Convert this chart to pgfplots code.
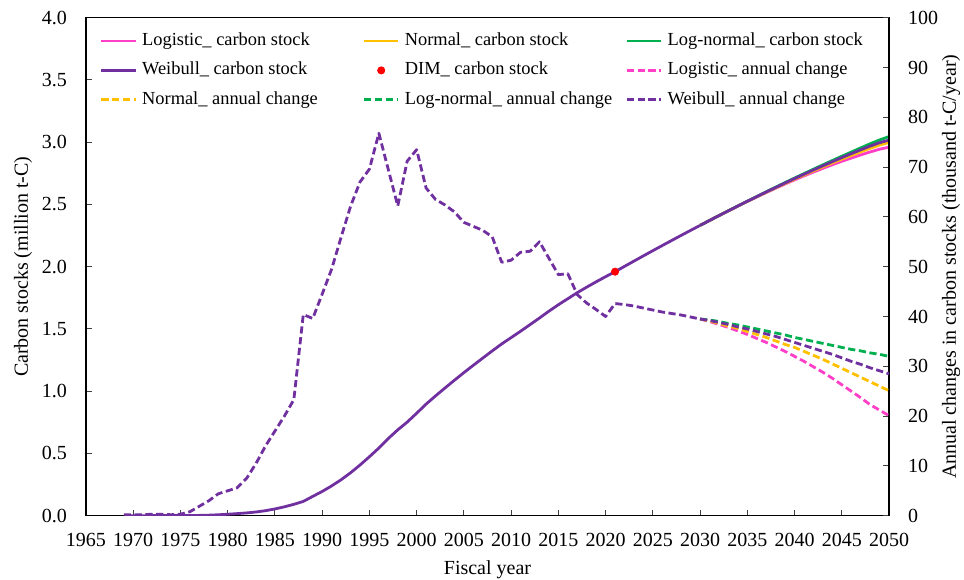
\documentclass[border=0pt]{standalone}
\usepackage{fontspec}
\setmainfont{Liberation Serif}
\usepackage{pgfplots}
\pgfplotsset{compat=1.18}
\usepackage{pgfplotstable}

\definecolor{cpink}{HTML}{FF3FC8}
\definecolor{corange}{HTML}{FFC000}
\definecolor{cgreen}{HTML}{00B050}
\definecolor{cpurple}{HTML}{7030A0}

\pgfplotstableread{
year stock change
1969 0.0000 0.2
1970 0.0002 0.2
1971 0.0004 0.2
1972 0.0006 0.3
1973 0.0009 0.3
1974 0.0012 0.2
1975 0.0014 0.3
1976 0.0017 0.8
1977 0.0025 1.9
1978 0.0044 3.0
1979 0.0074 4.4
1980 0.0118 5.0
1981 0.0168 5.6
1982 0.0224 7.5
1983 0.0299 10.5
1984 0.0404 14.0
1985 0.0544 17.0
1986 0.0714 20.0
1987 0.0914 23.3
1988 0.1147 40.4
1989 0.1551 39.6
1990 0.1947 44.5
1991 0.2392 49.5
1992 0.2887 55.9
1993 0.3446 62.1
1994 0.4067 67.0
1995 0.4737 69.6
1996 0.5433 76.8
1997 0.6201 69.5
1998 0.6896 62.2
1999 0.7518 71.2
2000 0.8230 73.5
2001 0.8965 65.8
2002 0.9623 63.5
2003 1.0258 62.4
2004 1.0882 61.0
2005 1.1492 58.9
2006 1.2081 58.1
2007 1.2662 57.3
2008 1.3235 56.0
2009 1.3795 50.9
2010 1.4304 51.3
2011 1.4817 52.9
2012 1.5346 53.1
2013 1.5877 55.0
2014 1.6427 51.7
2015 1.6944 48.4
2016 1.7428 48.6
2017 1.7914 44.4
2018 1.8358 42.7
2019 1.8785 41.4
2020 1.9199 40.0
2021 1.9599 42.6
2022 2.0025 42.4
2023 2.0449 42.1
2024 2.0870 41.7
2025 2.1287 41.3
2026 2.1700 40.9
2027 2.2109 40.6
2028 2.2515 40.3
2029 2.2918 39.9
2030 2.3317 39.5
}\common

\pgfplotstableread{
year stock change
2030 2.3317 39.5
2031 2.3712 39.0
2032 2.4102 38.4
2033 2.4486 37.8
2034 2.4864 37.1
2035 2.5235 36.4
2036 2.5599 35.6
2037 2.5955 34.8
2038 2.6303 33.9
2039 2.6642 33.0
2040 2.6972 32.0
2041 2.7292 31.0
2042 2.7602 29.9
2043 2.7901 28.8
2044 2.8189 27.6
2045 2.8465 26.3
2046 2.8728 25.0
2047 2.8978 23.7
2048 2.9215 22.3
2049 2.9438 21.2
2050 2.9600 20.1
}\logistic

\pgfplotstableread{
year stock change
2030 2.3317 39.5
2031 2.3712 39.1
2032 2.4103 38.6
2033 2.4489 38.1
2034 2.4870 37.6
2035 2.5246 37.0
2036 2.5616 36.4
2037 2.5980 35.8
2038 2.6338 35.1
2039 2.6689 34.4
2040 2.7033 33.8
2041 2.7371 33.0
2042 2.7701 32.2
2043 2.8023 31.4
2044 2.8337 30.5
2045 2.8642 29.6
2046 2.8938 28.7
2047 2.9225 27.8
2048 2.9503 26.9
2049 2.9772 26.0
2050 2.9980 25.1
}\normal

\pgfplotstableread{
year stock change
2030 2.3317 39.5
2031 2.3712 39.3
2032 2.4105 39.0
2033 2.4495 38.6
2034 2.4881 38.3
2035 2.5264 37.9
2036 2.5643 37.5
2037 2.6018 37.1
2038 2.6389 36.7
2039 2.6756 36.3
2040 2.7119 35.8
2041 2.7477 35.4
2042 2.7831 35.0
2043 2.8181 34.6
2044 2.8527 34.2
2045 2.8869 33.8
2046 2.9207 33.4
2047 2.9541 33.1
2048 2.9872 32.7
2049 3.0180 32.4
2050 3.0450 32.0
}\lognormal

\pgfplotstableread{
year stock change
2030 2.3317 39.5
2031 2.3712 39.2
2032 2.4104 38.8
2033 2.4492 38.4
2034 2.4876 37.9
2035 2.5255 37.5
2036 2.5630 37.0
2037 2.6000 36.5
2038 2.6365 36.0
2039 2.6725 35.4
2040 2.7079 34.8
2041 2.7427 34.2
2042 2.7769 33.6
2043 2.8105 33.0
2044 2.8435 32.4
2045 2.8759 31.7
2046 2.9076 31.0
2047 2.9386 30.4
2048 2.9690 29.7
2049 2.9960 29.1
2050 3.0170 28.5
}\weibull

\begin{document}
\begin{tikzpicture}
\pgfplotsset{
  base/.style={
    scale only axis, width=401.5pt, height=249pt,
    xmin=1965, xmax=2050,
    /pgf/number format/assume math mode=true,
    tick align=inside, major tick length=3pt,
    tick style={black!75, line width=0.5pt},
    every tick label/.append style={font=\fontsize{10}{12}\selectfont},
    label style={font=\fontsize{10}{12}\selectfont},
  },
  sline/.style={no marks, line width=1.4pt, line join=round},
  dline/.style={no marks, line width=1.4pt, line join=round, dash pattern=on 3.6pt off 1.8pt},
}
\begin{axis}[base,
  axis line style={black, line width=0.7pt},
  xtick={1965,1970,...,2050},
  x tick label style={/pgf/number format/1000 sep={}, yshift=-5pt},
  xtick pos=bottom, ytick pos=left,
  ymin=0, ymax=4, ytick={0,0.5,...,4},
  y tick label style={/pgf/number format/.cd, fixed, fixed zerofill, precision=1, /tikz/.cd, xshift=-6pt},
  xlabel={Fiscal year},
  xlabel style={at={(axis description cs:0.5,-0.1084)}, anchor=center},
  ylabel={Carbon stocks (million t-C)},
  ylabel style={at={(axis description cs:-0.0785,0.5)}, anchor=center},
]
\addplot[sline, cpurple] table[x=year, y=stock] {\common};
\addplot[sline, cpink] table[x=year, y=stock] {\logistic};
\addplot[sline, corange] table[x=year, y=stock] {\normal};
\addplot[sline, cgreen] table[x=year, y=stock] {\lognormal};
\addplot[sline, cpurple] table[x=year, y=stock] {\weibull};
\addplot[only marks, mark=*, mark size=1.8pt, color=red] coordinates {(2021,1.960)};
\end{axis}
\begin{axis}[base,
  axis x line=none, axis y line*=right,
  axis line style={black, line width=1.1pt},
  ymin=0, ymax=100, ytick={0,10,...,100},
  y tick label style={xshift=6pt},
  ylabel={Annual changes in carbon stocks (thousand t-C/year)},
  ylabel style={at={(axis description cs:1.0772,0.5)}, anchor=center},
  legend columns=3,
  legend cell align=left,
  legend style={draw=none, fill=none, inner sep=0pt, outer sep=0pt,
    at={(axis description cs:0,1)}, anchor=north west, xshift=7pt, yshift=-4.3pt,
    font=\fontsize{9.2}{11}\selectfont,
    nodes={inner sep=2.6pt, text height=7pt, text depth=2.5pt}},
]
\addlegendimage{sline, cpink}
\addlegendentry{\makebox[107.7pt][l]{Logistic\_ carbon stock}}
\addlegendimage{sline, corange}
\addlegendentry{\makebox[107.7pt][l]{Normal\_ carbon stock}}
\addlegendimage{sline, cgreen}
\addlegendentry{\makebox[107.7pt][l]{Log-normal\_ carbon stock}}
\addlegendimage{sline, cpurple}
\addlegendentry{\makebox[107.7pt][l]{Weibull\_ carbon stock}}
\addlegendimage{only marks, mark=*, mark size=1.8pt, color=red}
\addlegendentry{\makebox[107.7pt][l]{DIM\_ carbon stock}}
\addplot[dline, cpurple, forget plot] table[x=year, y=change] {\common};
\addplot[dline, cpink] table[x=year, y=change] {\logistic};
\addlegendentry{\makebox[107.7pt][l]{Logistic\_ annual change}}
\addplot[dline, corange] table[x=year, y=change] {\normal};
\addlegendentry{\makebox[107.7pt][l]{Normal\_ annual change}}
\addplot[dline, cgreen] table[x=year, y=change] {\lognormal};
\addlegendentry{\makebox[107.7pt][l]{Log-normal\_ annual change}}
\addplot[dline, cpurple] table[x=year, y=change] {\weibull};
\addlegendentry{\makebox[107.7pt][l]{Weibull\_ annual change}}
\end{axis}
\pgfresetboundingbox
\path (-43pt,-32pt) rectangle (439pt,257.85pt);
\end{tikzpicture}
\end{document}
